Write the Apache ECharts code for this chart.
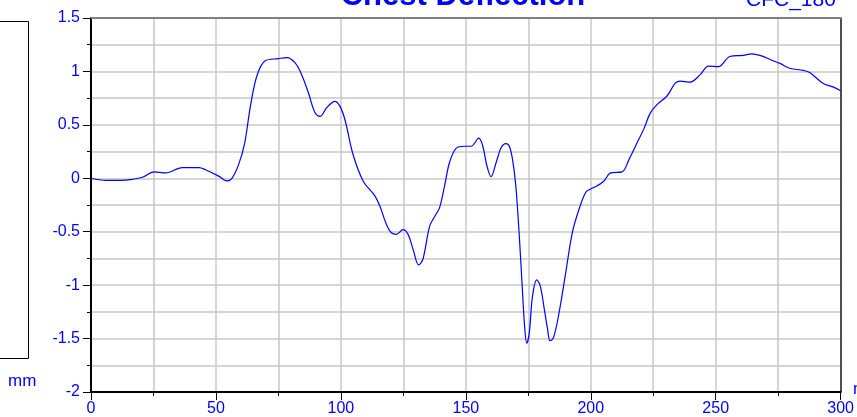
<!DOCTYPE html>
<html>
<head>
<meta charset="utf-8">
<title>Chest Deflection</title>
<script src="https://cdn.jsdelivr.net/npm/echarts@6/dist/echarts.min.js"></script>
<style>
  html, body { margin: 0; padding: 0; background: #fff; }
  #chart { width: 857px; height: 417px; }
</style>
</head>
<body>
<div id="chart"></div>
<script>
// time in ms, deflection in mm
const times = [
  0, 6, 12, 16.5, 20.6, 25.2, 29.9, 36.5, 43.2, 45.8, 51.1, 54.4, 56.4, 59.1, 61.5,
  63.8, 66.4, 69.7, 75, 78.4, 81.7, 84.3, 87, 89.7, 91.7, 94.3, 97.6, 99.6, 101.6,
  104.9, 108.9, 113.6, 115.6, 118.2, 120.2, 122.2, 124.9, 126.9, 128.9, 131.1, 132.8,
  135.5, 137.5, 139.5, 141.5, 143.5, 146.1, 149.5, 152.1, 155.2, 156.8, 158.5, 160.1,
  162.1, 164.1, 166, 167.4, 168.7, 170, 171.4, 172.7, 173.6, 174.4, 175.4, 176.7,
  178.4, 179.8, 181.4, 182.7, 183.7, 185.1, 187.3, 190, 192.6, 195.3, 198, 200,
  202.6, 205.3, 207.9, 212.5, 215.2, 218.5, 221.2, 223.8, 226.5, 230.5, 233.8, 235.8,
  239.8, 243.8, 247.1, 251.1, 255.7, 261, 264.4, 267.7, 273, 275.7, 279.6, 285,
  287.6, 292.9, 296.9, 300
]
const deflection = [
  0, -0.02, -0.02, -0.01, 0.01, 0.06, 0.05, 0.10, 0.10, 0.08, 0.02, -0.025, 0, 0.13, 0.33,
  0.675, 0.96, 1.10, 1.12, 1.13, 1.08, 0.97, 0.80, 0.61, 0.58, 0.66, 0.72, 0.675, 0.55,
  0.22, -0.025, -0.165, -0.26, -0.43, -0.51, -0.525, -0.48, -0.525, -0.665, -0.81, -0.76,
  -0.45, -0.36, -0.275, -0.07, 0.15, 0.28, 0.30, 0.30, 0.375, 0.30, 0.11, 0.015,
  0.145, 0.285, 0.325, 0.30, 0.175, -0.07, -0.54, -1.07, -1.41, -1.545, -1.445, -1.10,
  -0.95, -1.01, -1.225, -1.41, -1.52, -1.49, -1.26, -0.88, -0.51, -0.29, -0.13, -0.10,
  -0.07, -0.025, 0.05, 0.06, 0.17, 0.33, 0.46, 0.61, 0.69, 0.77, 0.89, 0.91,
  0.90, 0.97, 1.05, 1.045, 1.14, 1.15, 1.165, 1.15, 1.10, 1.075, 1.03, 1.01,
  0.99, 0.89, 0.855, 0.82
]
const xTicks = { min: 0, max: 300, step: 50 }
const yTicks = { min: -2, max: 1.5, step: 0.5 }

const font = 'Arial, "Liberation Sans", sans-serif'
const blue = '#0000ff'
const gridColor = '#c8c8c8'

const chart = echarts.init(document.getElementById('chart'))

chart.setOption({
  animation: false,
  textStyle: { fontFamily: font },
  graphic: [
    { type: 'text', x: 463, y: -4,
      style: { text: 'Chest Deflection', fill: blue, font: 'bold 31px ' + font, textAlign: 'center', textVerticalAlign: 'middle' } },
    { type: 'text', x: 746, y: 0,
      style: { text: 'CFC_180', fill: blue, font: '21px ' + font, textAlign: 'left', textVerticalAlign: 'middle' } },
    { type: 'text', x: 8, y: 381,
      style: { text: 'mm', fill: blue, font: '17px ' + font, textAlign: 'left', textVerticalAlign: 'middle' } },
    { type: 'text', x: 853, y: 389,
      style: { text: 'ms', fill: blue, font: '17px ' + font, textAlign: 'left', textVerticalAlign: 'middle' } },
    { type: 'rect', shape: { x: -6, y: 21.5, width: 34.5, height: 337 },
      style: { fill: 'none', stroke: '#000', lineWidth: 1 } }
  ],
  grid: { left: 91, right: 13, top: 18, bottom: 24 },
  xAxis: [{
    type: 'value',
    min: xTicks.min,
    max: xTicks.max,
    interval: xTicks.step,
    axisLine: { onZero: false, lineStyle: { color: '#000', width: 2 } },
    axisTick: { length: 8, lineStyle: { color: '#000' } },
    minorTick: { show: true, splitNumber: 2, length: 4, lineStyle: { color: '#000' } },
    axisLabel: { color: blue, fontSize: 16, margin: 9 },
    splitLine: { lineStyle: { color: gridColor, width: 1.5 } },
    minorSplitLine: { show: true, lineStyle: { color: gridColor, width: 1.5 } }
  }, {
    type: 'value',
    position: 'top',
    min: xTicks.min,
    max: xTicks.max,
    axisLine: { show: true, onZero: false, lineStyle: { color: '#808080', width: 2 } },
    axisTick: { show: false },
    axisLabel: { show: false },
    splitLine: { show: false }
  }],
  yAxis: [{
    type: 'value',
    min: yTicks.min,
    max: yTicks.max,
    interval: yTicks.step,
    axisLine: { show: true, onZero: false, lineStyle: { color: '#000', width: 2 } },
    axisTick: { length: 8, lineStyle: { color: '#000' } },
    minorTick: { show: true, splitNumber: 2, length: 4, lineStyle: { color: '#000' } },
    axisLabel: { color: blue, fontSize: 16, margin: 11 },
    splitLine: { lineStyle: { color: gridColor, width: 1.5 } },
    minorSplitLine: { show: true, lineStyle: { color: gridColor, width: 1.5 } }
  }, {
    type: 'value',
    position: 'right',
    min: yTicks.min,
    max: yTicks.max,
    axisLine: { show: true, onZero: false, lineStyle: { color: '#222', width: 1.5 } },
    axisTick: { show: false },
    axisLabel: { show: false },
    splitLine: { show: false }
  }],
  series: [{
    name: 'CFC_180',
    type: 'line',
    data: times.map((t, i) => [t, deflection[i]]),
    smooth: 0.35,
    symbol: 'none',
    lineStyle: { color: blue, width: 1.2 }
  }]
})
</script>
</body>
</html>
